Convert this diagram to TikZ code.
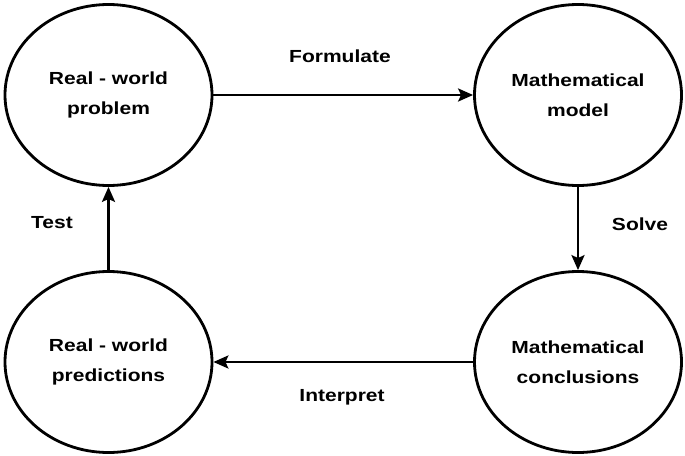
\documentclass[tikz,border=0pt]{standalone}
\usepackage{fontspec}
\setmainfont{Liberation Sans}[FakeStretch=1.2]
\usetikzlibrary{shapes.geometric,arrows.meta}
\begin{document}
\begin{tikzpicture}[x=1pt,y=-1pt,
  stage/.style={ellipse,draw,line width=2.8pt,minimum width=207pt,minimum height=181pt,inner sep=0pt,align=center,font=\fontsize{17.5}{30}\selectfont\bfseries},
  lbl/.style={font=\fontsize{17.5}{20}\selectfont\bfseries},
  arr/.style={line width=2.8pt,-{Stealth[length=15pt,width=13pt,inset=3pt]}}]
\useasboundingbox (0,0) rectangle (685,455);
\node[stage] (rw) at (108.5,95) {Real - world\\problem};
\node[stage] (mm) at (578,95) {Mathematical\\model};
\node[stage] (mc) at (578,362) {Mathematical\\conclusions};
\node[stage] (rp) at (108.5,362) {Real - world\\predictions};
\draw[arr] (rw.east) -- (mm.west);
\draw[arr] (mm.south) -- (mc.north);
\draw[arr] (mc.west) -- (rp.east);
\draw[arr] (rp.north) -- (rw.south);
\node[lbl] (f) at (340,56) {Formulate};
\node[lbl] (s) at (640,224) {Solve};
\node[lbl] (i) at (342,397) {Interpret};
\node[lbl] (t) at (52,223) {Test};
\end{tikzpicture}
\end{document}
